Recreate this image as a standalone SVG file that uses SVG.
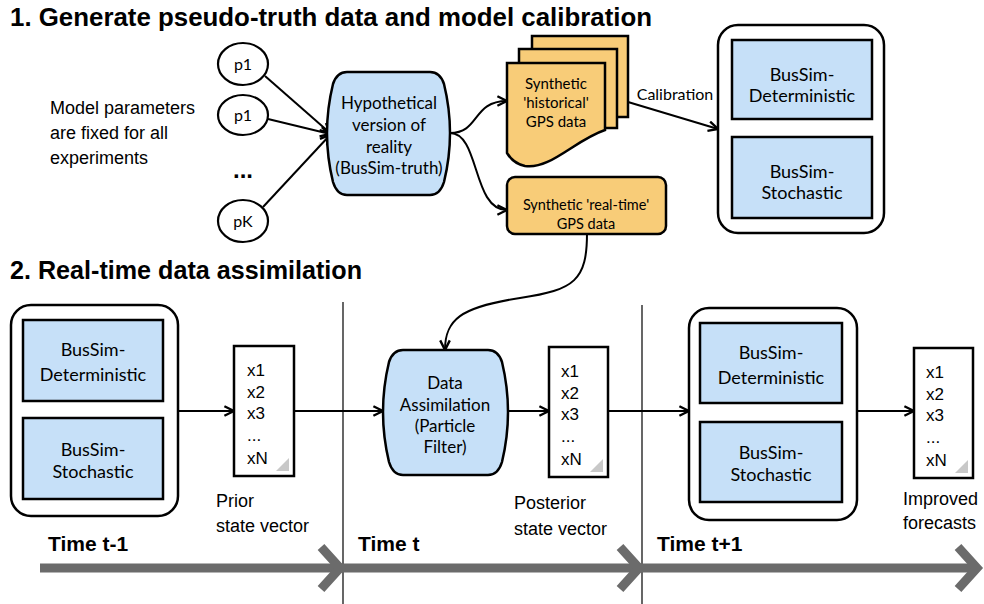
<svg xmlns="http://www.w3.org/2000/svg" width="984" height="604" viewBox="0 0 984 604">
<style>
.title{font-family:"Liberation Sans",Arial,sans-serif;font-weight:bold;font-size:25px;fill:#000}
.lab{font-family:"Liberation Sans",Arial,sans-serif;font-size:18px;fill:#000}
.time{font-family:"Liberation Sans",Arial,sans-serif;font-weight:bold;font-size:21px;fill:#000}
.vec{font-family:"Liberation Sans",Arial,sans-serif;font-size:17px;fill:#000}
.g{font-family:Lato,"Noto Sans",sans-serif;fill:#000;text-anchor:middle}
.blue{fill:#c6e0f8;stroke:#000;stroke-width:2.5}
.orange{fill:#f8cc78;stroke:#000;stroke-width:2.5}
.outer{fill:#fff;stroke:#000;stroke-width:2.5}
.vbox{fill:#fff;stroke:#000;stroke-width:2.5}
.circ{fill:#fff;stroke:#000;stroke-width:2.2}
.conn{fill:none;stroke:#000;stroke-width:2}
.thick{fill:none;stroke:#6b6b6b;stroke-width:9}
.sep{stroke:#000;stroke-width:1.2}
.tri{fill:#c8c8c8}
</style>
<defs>
<marker id="arr" viewBox="0 0 10 10" refX="9" refY="5" markerWidth="12" markerHeight="12" markerUnits="userSpaceOnUse" orient="auto">
<path d="M1,1 L9,5 L1,9" fill="none" stroke="#000" stroke-width="2"/>
</marker>
</defs>

<text class="title" x="10" y="26" textLength="642" lengthAdjust="spacingAndGlyphs">1. Generate pseudo-truth data and model calibration</text>
<text class="title" x="10" y="279" textLength="352" lengthAdjust="spacingAndGlyphs">2. Real-time data assimilation</text>

<g id="params-note">
<text class="lab" x="50" y="114">Model parameters</text>
<text class="lab" x="50" y="139">are fixed for all</text>
<text class="lab" x="50" y="164">experiments</text>
</g>

<g id="connectors">
<path class="conn" d="M265,76 L330,133" marker-end="url(#arr)"/>
<path class="conn" d="M268,119 L330,134" marker-end="url(#arr)"/>
<path class="conn" d="M263,207 L330,135" marker-end="url(#arr)"/>
<path class="conn" d="M450,133 C480,133 472,101 507,101" marker-end="url(#arr)"/>
<path class="conn" d="M450,133 C480,133 472,210 507,210" marker-end="url(#arr)"/>
<path class="conn" d="M628,102 L718,129" marker-end="url(#arr)"/>
<path class="conn" d="M587,233 C587,280 575,290 520,298 C460,307 445,320 445,350" marker-end="url(#arr)"/>
<path class="conn" d="M178,411 L234,411" marker-end="url(#arr)"/>
<path class="conn" d="M294,411 L383,411" marker-end="url(#arr)"/>
<path class="conn" d="M508,411 L549,411" marker-end="url(#arr)"/>
<path class="conn" d="M608,411 L689,411" marker-end="url(#arr)"/>
<path class="conn" d="M857,411 L914,411" marker-end="url(#arr)"/>
</g>

<g id="p1a">
<ellipse class="circ" cx="243" cy="64" rx="25" ry="21"/>
<text class="g" x="243" y="70" font-size="16">p1</text>
</g>
<g id="p1b">
<ellipse class="circ" cx="243" cy="115" rx="25" ry="20"/>
<text class="g" x="243" y="121" font-size="16">p1</text>
</g>
<g id="dots">
<text x="243" y="178" text-anchor="middle" font-family="Liberation Sans, Arial, sans-serif" font-weight="bold" font-size="24">...</text>
</g>
<g id="pK">
<ellipse class="circ" cx="243" cy="221" rx="25" ry="21"/>
<text class="g" x="243" y="227" font-size="16">pK</text>
</g>

<g id="truth">
<path class="blue" d="M347,72 H430 Q440,72 444,84 Q456,133 444,182 Q440,195 430,195 H347 Q337,195 333,182 Q321,133 333,84 Q337,72 347,72 Z"/>
<text class="g" x="389" y="109" font-size="17">Hypothetical</text>
<text class="g" x="389" y="131" font-size="17">version of</text>
<text class="g" x="389" y="153" font-size="17">reality</text>
<text class="g" x="389" y="174" font-size="17">(BusSim-truth)</text>
</g>

<g id="historical">
<rect class="orange" x="532" y="36" width="96" height="81"/>
<rect class="orange" x="519" y="49" width="98" height="79"/>
<path class="orange" d="M507,63 H605 V130 C575,140 550,170 525,166 C515,164 510,158 507,153 Z"/>
<text class="g" x="556" y="89" font-size="15">Synthetic</text>
<text class="g" x="556" y="108" font-size="15">'historical'</text>
<text class="g" x="556" y="127" font-size="15">GPS data</text>
</g>

<g id="calib-label">
<text class="g" x="675" y="100" font-size="16">Calibration</text>
</g>

<g id="realtime">
<rect class="orange" x="507" y="177" width="159" height="57" rx="8"/>
<text class="g" x="586" y="210" font-size="14.5">Synthetic 'real-time'</text>
<text class="g" x="586" y="229" font-size="14.5">GPS data</text>
</g>

<g id="models-top">
<rect class="outer" x="718" y="25" width="166" height="208" rx="20"/>
<rect class="blue" x="732" y="40" width="140" height="79"/>
<rect class="blue" x="732" y="137" width="140" height="81"/>
<text class="g" x="802" y="81" font-size="18">BusSim-</text>
<text class="g" x="802" y="102" font-size="18">Deterministic</text>
<text class="g" x="802" y="178" font-size="18">BusSim-</text>
<text class="g" x="802" y="199" font-size="18">Stochastic</text>
</g>

<g id="separators">
<line class="sep" x1="343" y1="302" x2="343" y2="604"/>
<line class="sep" x1="642" y1="305" x2="642" y2="604"/>
</g>

<g id="models-t-1">
<rect class="outer" x="11" y="305" width="167" height="211" rx="20"/>
<rect class="blue" x="23" y="320" width="140" height="81"/>
<rect class="blue" x="23" y="418" width="140" height="81"/>
<text class="g" x="93" y="356" font-size="18">BusSim-</text>
<text class="g" x="93" y="381" font-size="18">Deterministic</text>
<text class="g" x="93" y="456" font-size="18">BusSim-</text>
<text class="g" x="93" y="478" font-size="18">Stochastic</text>
</g>

<g id="prior">
<rect class="vbox" x="234" y="346" width="60" height="130"/>
<polygon class="tri" points="289,458 289,471 276,471"/>
<text class="vec" x="247" y="376">x1</text>
<text class="vec" x="247" y="398">x2</text>
<text class="vec" x="247" y="419">x3</text>
<text class="vec" x="247" y="441">...</text>
<text class="vec" x="247" y="464">xN</text>
<text class="lab" x="216" y="507">Prior</text>
<text class="lab" x="216" y="532">state vector</text>
</g>

<g id="assim">
<path class="blue" d="M403,350 H488 Q498,350 502,362 Q514,412 502,462 Q498,475 488,475 H403 Q393,475 389,462 Q377,412 389,362 Q393,350 403,350 Z"/>
<text class="g" x="445" y="389" font-size="17">Data</text>
<text class="g" x="445" y="411" font-size="17">Assimilation</text>
<text class="g" x="445" y="432" font-size="17">(Particle</text>
<text class="g" x="445" y="453" font-size="17">Filter)</text>
</g>

<g id="posterior">
<rect class="vbox" x="549" y="347" width="59" height="130"/>
<polygon class="tri" points="603,459 603,472 590,472"/>
<text class="vec" x="561" y="377">x1</text>
<text class="vec" x="561" y="399">x2</text>
<text class="vec" x="561" y="420">x3</text>
<text class="vec" x="561" y="442">...</text>
<text class="vec" x="561" y="465">xN</text>
<text class="lab" x="514" y="509">Posterior</text>
<text class="lab" x="514" y="535">state vector</text>
</g>

<g id="models-t1">
<rect class="outer" x="689" y="308" width="168" height="212" rx="20"/>
<rect class="blue" x="700" y="323" width="142" height="80"/>
<rect class="blue" x="700" y="422" width="142" height="80"/>
<text class="g" x="771" y="359" font-size="18">BusSim-</text>
<text class="g" x="771" y="384" font-size="18">Deterministic</text>
<text class="g" x="771" y="459" font-size="18">BusSim-</text>
<text class="g" x="771" y="481" font-size="18">Stochastic</text>
</g>

<g id="improved">
<rect class="vbox" x="914" y="348" width="59" height="130"/>
<polygon class="tri" points="968,460 968,473 955,473"/>
<text class="vec" x="926" y="378">x1</text>
<text class="vec" x="926" y="400">x2</text>
<text class="vec" x="926" y="421">x3</text>
<text class="vec" x="926" y="443">...</text>
<text class="vec" x="926" y="466">xN</text>
<text class="lab" x="903" y="505">Improved</text>
<text class="lab" x="903" y="529">forecasts</text>
</g>

<g id="timeline">
<line class="thick" x1="40" y1="568" x2="976" y2="568"/>
<polyline class="thick" points="321,547 340,568 321,589"/>
<polyline class="thick" points="620,547 639,568 620,589"/>
<polyline class="thick" points="958,547 977,568 958,589"/>
<text class="time" x="48" y="551">Time t-1</text>
<text class="time" x="358" y="551">Time t</text>
<text class="time" x="657" y="551">Time t+1</text>
</g>
</svg>
